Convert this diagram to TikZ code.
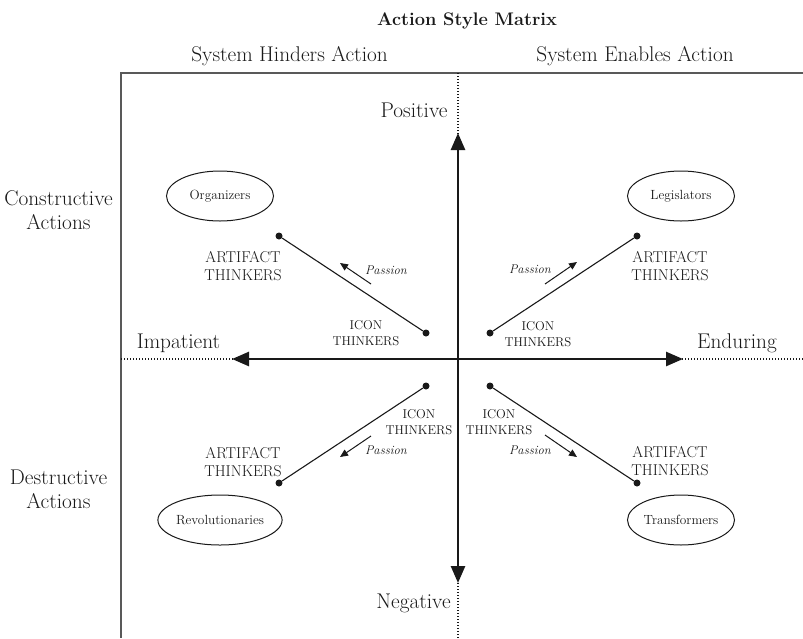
\documentclass[tikz,border=0pt]{standalone}
\usepackage{fontspec}
\usetikzlibrary{arrows.meta,shapes.geometric}
\begin{document}
\begin{tikzpicture}[x=1pt,y=-1pt,
  every node/.style={text=black!90},
  frame/.style={line width=1.4pt, draw=gray!70!black},
  guide/.style={line width=1.1pt, draw=black!90, dash pattern=on 1.4pt off 1.6pt},
  axis/.style={line width=2.6pt, draw=black!90,
    {Triangle[length=17pt,width=14pt]}-{Triangle[length=17pt,width=14pt]}},
  link/.style={line width=1.1pt, draw=black!90},
  dot/.style={circle, fill=black!90, inner sep=0pt, minimum size=7pt},
  flow/.style={line width=1pt, draw=black!90, -{Triangle[length=8pt,width=7pt]}},
  role/.style={ellipse, draw=black!90, line width=1pt, minimum width=107pt,
    minimum height=50pt, inner sep=0pt, font=\fontsize{13.3}{15}\selectfont},
  biglabel/.style={font=\fontsize{21.3}{24}\selectfont},
  artifact/.style={align=center, font=\fontsize{15.7}{18.5}\selectfont},
  icon/.style={align=center, font=\fontsize{12.8}{16}\selectfont},
  passion/.style={font=\fontsize{12.6}{14}\selectfont\itshape}]
\useasboundingbox (0,0) rectangle (803,638);

% headings
\node[anchor=base, font=\fontsize{18.2}{20}\selectfont\bfseries] (title) at (467,25) {Action Style Matrix};
\node[anchor=base, biglabel] (hinders) at (289.5,61) {System Hinders Action};
\node[anchor=base, biglabel] (enables) at (635,61) {System Enables Action};
\node[biglabel, align=center] (constructive) at (58.5,210) {Constructive\\Actions};
\node[biglabel, align=center] (destructive) at (58.5,489) {Destructive\\Actions};

% open frame (top and left edges)
\coordinate (ftl) at (121,73);
\coordinate (ftr) at (803,73);
\coordinate (fbl) at (121,638);
\draw[frame] (ftr) -- (ftl) -- (fbl);

% dotted quadrant dividers
\coordinate (vtop) at (458,73);
\coordinate (vbot) at (458,638);
\coordinate (hleft) at (121,359);
\coordinate (hright) at (803,359);
\draw[guide] (vtop) -- (vbot);
\draw[guide] (hleft) -- (hright);

% main axes
\coordinate (pos) at (458,133);
\coordinate (neg) at (458,583);
\coordinate (imp) at (232,359);
\coordinate (end) at (683,359);
\draw[axis] (neg) -- (pos);
\draw[axis] (imp) -- (end);

\node[anchor=base, biglabel] (positive) at (414,117) {Positive};
\node[anchor=base, biglabel] (negative) at (413.5,608) {Negative};
\node[anchor=base, biglabel] (impatient) at (178.5,348) {Impatient};
\node[anchor=base, biglabel] (enduring) at (737,348) {Enduring};

% upper left: Organizers
\node[role] (org) at (220,196) {Organizers};
\node[dot] (ula) at (279,236) {};
\node[dot] (uli) at (426,333) {};
\draw[link] (ula) -- (uli);
\node[artifact] (ulart) at (243,266) {ARTIFACT\\THINKERS};
\node[icon] (ulicon) at (366,333) {ICON\\THINKERS};
\node[passion] (ulpas) at (386,270) {Passion};
\coordinate (ulfrom) at (371,284);
\coordinate (ulto) at (340,263);
\draw[flow] (ulfrom) -- (ulto);

% upper right: Legislators
\node[role] (leg) at (681,196) {Legislators};
\node[dot] (uri) at (490,333) {};
\node[dot] (ura) at (637,236) {};
\draw[link] (uri) -- (ura);
\node[artifact] (urart) at (670,266) {ARTIFACT\\THINKERS};
\node[icon] (uricon) at (538,334) {ICON\\THINKERS};
\node[passion] (urpas) at (530,269) {Passion};
\coordinate (urfrom) at (545,284);
\coordinate (urto) at (577,262);
\draw[flow] (urfrom) -- (urto);

% lower left: Revolutionaries
\node[role] (rev) at (220,520) {Revolutionaries};
\node[dot] (lli) at (426,386) {};
\node[dot] (lla) at (279,483) {};
\draw[link] (lli) -- (lla);
\node[icon] (llicon) at (419,422) {ICON\\THINKERS};
\node[artifact] (llart) at (243,462) {ARTIFACT\\THINKERS};
\node[passion] (llpas) at (386,450) {Passion};
\coordinate (llfrom) at (371,436);
\coordinate (llto) at (340,457);
\draw[flow] (llfrom) -- (llto);

% lower right: Transformers
\node[role] (tra) at (681,520) {Transformers};
\node[dot] (lri) at (490,386) {};
\node[dot] (lra) at (637,483) {};
\draw[link] (lri) -- (lra);
\node[icon] (lricon) at (499,422) {ICON\\THINKERS};
\node[artifact] (lrart) at (670,461) {ARTIFACT\\THINKERS};
\node[passion] (lrpas) at (530,450) {Passion};
\coordinate (lrfrom) at (545,435);
\coordinate (lrto) at (577,457);
\draw[flow] (lrfrom) -- (lrto);
\end{tikzpicture}
\end{document}
